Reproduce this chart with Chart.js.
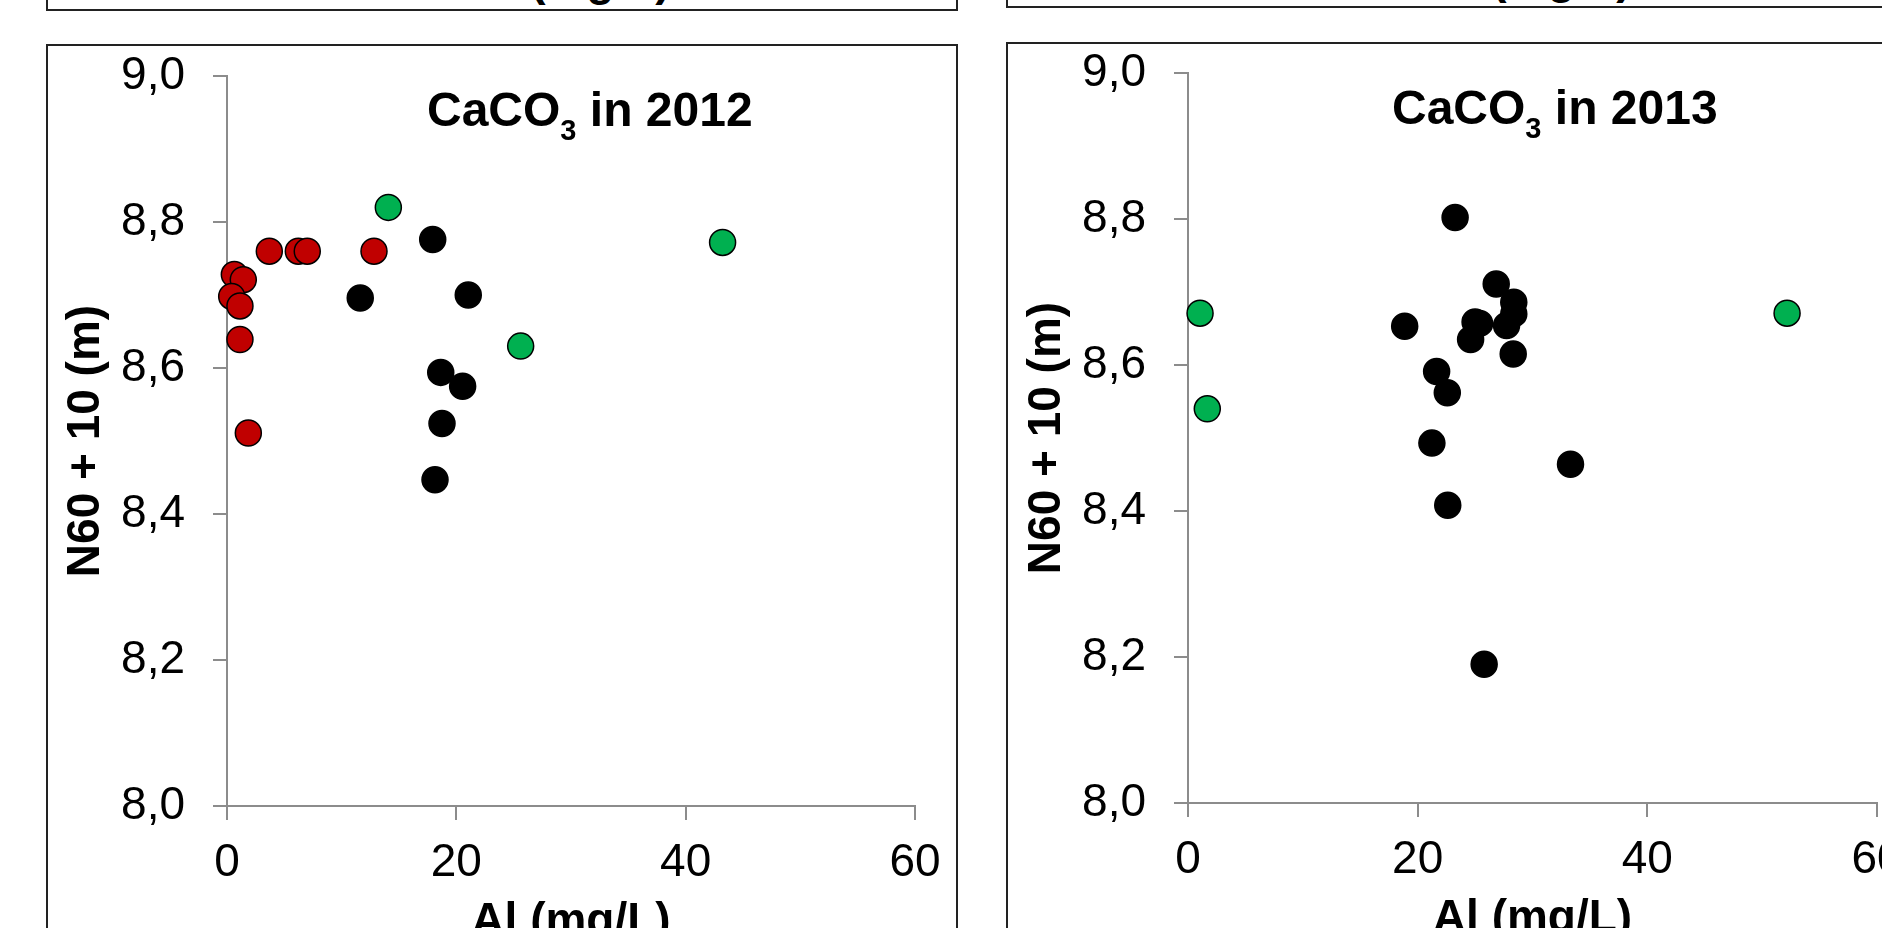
<!DOCTYPE html>
<html lang="en">
  <head>
    <meta charset="UTF-8" />
    <title>N60 vs Al, CaCO3</title>
    <script src="https://cdn.jsdelivr.net/npm/chart.js"></script>
    <style>
      html, body {
        margin: 0;
        padding: 0;
        background: #fff;
      }
      body {
        position: relative;
        width: 1882px;
        height: 928px;
        overflow: hidden;
        font-family: "Liberation Sans", Arial, sans-serif;
      }
      .panel {
        position: absolute;
        border: 2px solid #222;
        box-sizing: content-box;
      }
      .cut-title {
        position: absolute;
        font-weight: bold;
        font-size: 46px;
        line-height: 46px;
        white-space: nowrap;
        transform: translateX(-50%);
      }
      .chart-title {
        position: absolute;
        font-weight: bold;
        font-size: 48px;
        line-height: 48px;
        white-space: nowrap;
      }
      .chart-title .sub {
        font-size: 29px;
        vertical-align: -14px;
      }
      canvas {
        position: absolute;
      }
    </style>
  </head>
  <body>
    <!-- panels above, only their bottom edge is in view -->
    <div class="panel" style="left: 46px; top: -500px; width: 908px; height: 507px"></div>
    <div class="panel" style="left: 1006px; top: -500px; width: 1000px; height: 504px"></div>
    <div class="cut-title" style="left: 571px; top: -44px">Al (mg/L)</div>
    <div class="cut-title" style="left: 1532px; top: -46px">Al (mg/L)</div>

    <!-- the two panels -->
    <div class="panel" style="left: 46px; top: 44px; width: 908px; height: 1000px"></div>
    <div class="panel" style="left: 1006px; top: 42px; width: 1000px; height: 1000px"></div>

    <canvas id="chart2012" width="911" height="940" style="left: 47px; top: 45px"></canvas>
    <canvas id="chart2013" width="920" height="940" style="left: 1008px; top: 44px"></canvas>

    <div class="chart-title" style="left: 427px; top: 86px">CaCO<span class="sub">3</span> in 2012</div>
    <div class="chart-title" style="left: 1392px; top: 84px">CaCO<span class="sub">3</span> in 2013</div>

    <script>
      // 2012
      const al2012Red = [0.64, 1.42, 0.41, 1.13, 1.13, 1.86, 3.69, 6.22, 7.0, 12.82];
      const n60_2012Red = [8.728, 8.721, 8.698, 8.685, 8.639, 8.511, 8.76, 8.76, 8.76, 8.76];
      const al2012Black = [17.94, 11.62, 21.04, 18.64, 20.55, 18.75, 18.14];
      const n60_2012Black = [8.776, 8.696, 8.7, 8.594, 8.575, 8.524, 8.447];
      const al2012Green = [14.07, 25.61, 43.22];
      const n60_2012Green = [8.82, 8.63, 8.772];

      // 2013
      const al2013Black = [23.26, 26.84, 28.37, 28.37, 27.74, 25.0, 25.4, 24.61, 18.87, 28.32, 21.65, 22.58, 21.24, 33.31, 22.62, 25.79];
      const n60_2013Black = [8.802, 8.711, 8.686, 8.67, 8.654, 8.659, 8.657, 8.635, 8.653, 8.615, 8.591, 8.562, 8.493, 8.464, 8.408, 8.19];
      const al2013Green = [1.05, 1.68, 52.17];
      const n60_2013Green = [8.671, 8.54, 8.671];

      const xTicks = [0, 20, 40, 60];
      const yTicks = [8.0, 8.2, 8.4, 8.6, 8.8, 9.0];

      const FONT = "'Liberation Sans', Arial, sans-serif";
      const AXIS = "#8c8c8c";
      const RED = "#c00000";
      const GREEN = "#00b050";

      function pts(xs, ys) {
        return xs.map((x, i) => ({ x: x, y: ys[i] }));
      }

      function series(xs, ys, fill) {
        return {
          data: pts(xs, ys),
          backgroundColor: fill,
          borderColor: "#000",
          borderWidth: 1.5,
          pointRadius: 13,
          pointHoverRadius: 13,
          clip: false,
        };
      }

      function makeChart(id, datasets, pad) {
        new Chart(document.getElementById(id), {
          type: "scatter",
          data: { datasets: datasets },
          options: {
            responsive: false,
            animation: false,
            devicePixelRatio: 1,
            layout: { padding: pad },
            plugins: {
              legend: { display: false },
              tooltip: { enabled: false },
            },
            events: [],
            scales: {
              x: {
                type: "linear",
                position: "bottom",
                min: xTicks[0],
                max: xTicks[xTicks.length - 1],
                // fixed axis box, so the plot area sits where the picture has it
                afterFit: (s) => {
                  s.height = 139;
                  s.paddingLeft = 0;
                  s.paddingRight = 0;
                },
                afterBuildTicks: (s) => { s.ticks = xTicks.map((v) => ({ value: v })); },
                border: { display: true, color: AXIS, width: 2 },
                grid: { drawOnChartArea: false, drawTicks: true, tickLength: 14, color: AXIS, lineWidth: 2 },
                ticks: {
                  padding: 20,
                  color: "#000",
                  maxRotation: 0,
                  font: { family: FONT, size: 46, lineHeight: 1 },
                },
                title: {
                  display: true,
                  text: "Al (mg/L)",
                  color: "#000",
                  font: { family: FONT, size: 46, weight: "bold", lineHeight: 1 },
                  padding: { top: 0, bottom: 0 },
                },
              },
              y: {
                min: yTicks[0],
                max: yTicks[yTicks.length - 1],
                afterFit: (s) => {
                  s.width = 180;
                  s.paddingTop = 0;
                  s.paddingBottom = 0;
                },
                afterBuildTicks: (s) => { s.ticks = yTicks.map((v) => ({ value: v })); },
                border: { display: true, color: AXIS, width: 2 },
                grid: { drawOnChartArea: false, drawTicks: true, tickLength: 14, color: AXIS, lineWidth: 2 },
                ticks: {
                  padding: 28,
                  color: "#000",
                  autoSkip: false,
                  font: { family: FONT, size: 46, lineHeight: 1 },
                  callback: (v) => v.toFixed(1).replace(".", ","),
                },
                title: {
                  display: true,
                  text: "N60 + 10 (m)",
                  color: "#000",
                  font: { family: FONT, size: 46, weight: "bold", lineHeight: 1 },
                  padding: { top: 16, bottom: 0 },
                },
              },
            },
          },
        });
      }

      makeChart(
        "chart2012",
        [
          series(al2012Red, n60_2012Red, RED),
          series(al2012Black, n60_2012Black, "#000"),
          series(al2012Green, n60_2012Green, GREEN),
        ],
        { top: 31, bottom: 40, left: 0, right: 43 }
      );

      makeChart(
        "chart2013",
        [
          series(al2013Black, n60_2013Black, "#000"),
          series(al2013Green, n60_2013Green, GREEN),
        ],
        { top: 29, bottom: 42, left: 0, right: 51 }
      );
    </script>
  </body>
</html>
